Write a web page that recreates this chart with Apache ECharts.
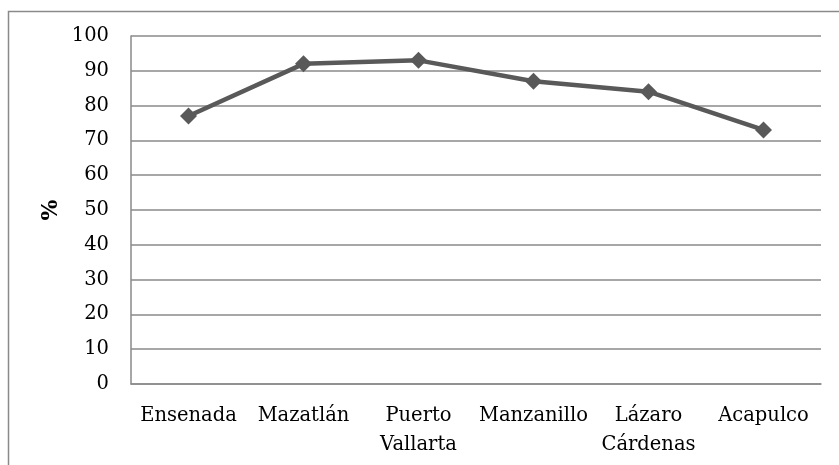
<!DOCTYPE html>
<html>
<head>
<meta charset="utf-8">
<script src="https://cdn.jsdelivr.net/npm/echarts@6/dist/echarts.min.js"></script>
<style>
  html, body { margin: 0; padding: 0; background: #fff; }
  #chart { width: 839px; height: 465px; }
</style>
</head>
<body>
<div id="chart"></div>
<script>
// Port cities and their percentage values
const ports = ['Ensenada', 'Mazatlán', 'Puerto\nVallarta', 'Manzanillo', 'Lázaro\nCárdenas', 'Acapulco'];
const percentages = [77, 92, 93, 87, 84, 73];
const yTicks = { min: 0, max: 100, interval: 10 };

const font = '"DejaVu Serif", "Liberation Serif", serif';
const chart = echarts.init(document.getElementById('chart'), null, { renderer: 'canvas' });

chart.setOption({
  animation: false,
  backgroundColor: '#ffffff',
  graphic: [{
    type: 'rect',
    shape: { x: 8.5, y: 11.5, width: 900, height: 500 },
    style: { fill: 'none', stroke: '#8a8a8a', lineWidth: 1.5 },
    silent: true
  }],
  grid: { left: 131, right: 18, top: 36, bottom: 81, containLabel: false },
  xAxis: {
    type: 'category',
    data: ports,
    boundaryGap: true,
    axisLine: { show: true, lineStyle: { color: '#8a8a8a', width: 1.5 } },
    axisTick: { show: false },
    axisLabel: {
      interval: 0,
      margin: 17,
      color: '#000',
      fontFamily: font,
      fontSize: 19.5,
      lineHeight: 29
    }
  },
  yAxis: {
    type: 'value',
    min: yTicks.min,
    max: yTicks.max,
    interval: yTicks.interval,
    name: '%',
    nameLocation: 'middle',
    nameGap: 69,
    nameMoveOverlap: false,
    nameRotate: 90,
    nameTextStyle: { color: '#000', fontFamily: font, fontSize: 22, fontWeight: 'bold' },
    axisLine: { show: true, lineStyle: { color: '#8a8a8a', width: 1.5 } },
    axisTick: { show: false },
    splitLine: { show: true, lineStyle: { color: '#8a8a8a', width: 1.5 } },
    axisLabel: {
      margin: 22,
      color: '#000',
      fontFamily: font,
      fontSize: 19.5
    }
  },
  series: [{
    type: 'line',
    data: percentages,
    symbol: 'diamond',
    symbolSize: 17,
    lineStyle: { color: '#595959', width: 4.5 },
    itemStyle: { color: '#595959' },
    z: 3
  }]
});
</script>
</body>
</html>
